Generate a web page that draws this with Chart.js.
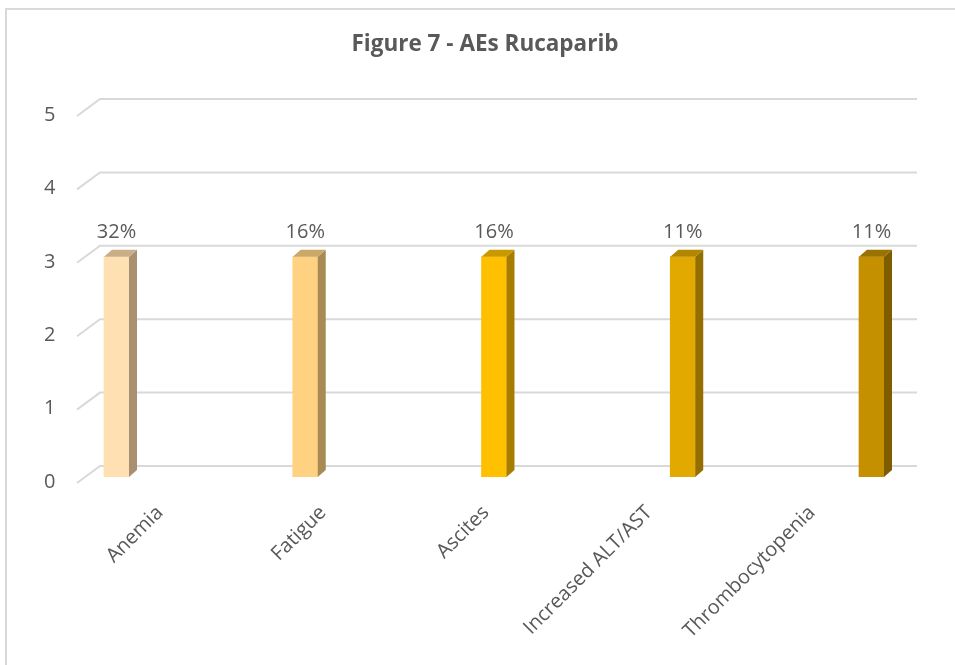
<!DOCTYPE html>
<html>
<head>
<meta charset="utf-8">
<script src="https://cdn.jsdelivr.net/npm/chart.js@4/dist/chart.umd.min.js"></script>
<style>
  html, body { margin: 0; padding: 0; background: #fff; }
  #wrap { position: relative; width: 955px; height: 665px; overflow: hidden; }
  #frame { position: absolute; left: 5px; top: 8px; width: 1000px; height: 700px;
           border-left: 2px solid #d9d9d9; border-top: 2px solid #d9d9d9; }
  #chart { position: absolute; left: 0; top: 0; }
</style>
</head>
<body>
<div id="wrap">
  <div id="frame"></div>
  <canvas id="chart" width="955" height="665"></canvas>
</div>
<script>
var categories = ['Anemia', 'Fatigue', 'Ascites', 'Increased ALT/AST', 'Thrombocytopenia'];
var values = [3, 3, 3, 3, 3];
var pctLabels = ['32%', '16%', '16%', '11%', '11%'];
var yTicks = [0, 1, 2, 3, 4, 5];

var frontColors = ['#FFE0B3', '#FFD281', '#FFC000', '#E2A900', '#C49000'];
var sideColors  = ['#A89070', '#A88A55', '#A67D00', '#946E00', '#7D5D00'];
var topColors   = ['#C9AE88', '#C9A868', '#C99A00', '#B38600', '#9A7200'];

var textColor = '#595959';
var fontFam = '"Open Sans", sans-serif';

// 3d look: bars sit a bit behind the front floor edge
var barShift = -5;   // vertical offset of bar front face
var depthX = 8, depthY = 7;

var wallPlugin = {
  id: 'wall',
  beforeDatasetsDraw: function(chart) {
    var ctx = chart.ctx, y = chart.scales.y, area = chart.chartArea;
    ctx.save();
    ctx.strokeStyle = '#d9d9d9';
    ctx.lineWidth = 2;
    yTicks.forEach(function(v) {
      var yf = y.getPixelForValue(v);
      ctx.beginPath();
      ctx.moveTo(area.left - 1.5, yf + 1);
      ctx.lineTo(area.left + 21.5, yf - 16);
      ctx.lineTo(area.right + 23.5, yf - 16);
      ctx.stroke();
    });
    ctx.restore();
    ctx.save();
    ctx.translate(0, barShift);
  },
  afterDatasetsDraw: function(chart) {
    var ctx = chart.ctx;
    var bars = chart.getDatasetMeta(0).data;
    bars.forEach(function(bar, i) {
      var l = bar.x - bar.width / 2, r = bar.x + bar.width / 2;
      var t = bar.y, b = bar.base;
      ctx.fillStyle = sideColors[i];
      ctx.beginPath();
      ctx.moveTo(r, t);
      ctx.lineTo(r + depthX, t - depthY);
      ctx.lineTo(r + depthX, b - depthY);
      ctx.lineTo(r, b);
      ctx.closePath();
      ctx.fill();
      ctx.fillStyle = topColors[i];
      ctx.beginPath();
      ctx.moveTo(l, t);
      ctx.lineTo(l + depthX, t - depthY);
      ctx.lineTo(r + depthX, t - depthY);
      ctx.lineTo(r, t);
      ctx.closePath();
      ctx.fill();
      ctx.fillStyle = textColor;
      ctx.font = '20px ' + fontFam;
      ctx.textAlign = 'center';
      ctx.textBaseline = 'middle';
      ctx.fillText(pctLabels[i], bar.x, t - 25);
    });
    ctx.restore();
  }
};

new Chart(document.getElementById('chart'), {
  type: 'bar',
  data: {
    datasets: [{
      data: values.map(function(v, i) { return { x: i, y: v }; }),
      xAxisID: 'xb',
      yAxisID: 'y',
      backgroundColor: frontColors,
      borderWidth: 0,
      barThickness: 25
    }]
  },
  options: {
    responsive: false,
    animation: false,
    layout: { padding: { left: 15, right: 0, top: 0, bottom: 0 } },
    plugins: {
      legend: { display: false },
      tooltip: { enabled: false },
      title: {
        display: true,
        text: 'Figure 7 - AEs Rucaparib',
        color: textColor,
        font: { family: fontFam, size: 22.5, weight: 'bold' },
        padding: { top: 31.5, bottom: 56.5 }
      }
    },
    scales: {
      x: {
        type: 'category',
        labels: categories,
        offset: true,
        grid: { display: false },
        border: { display: false },
        ticks: {
          color: textColor,
          font: { family: fontFam, size: 20 },
          minRotation: 45,
          maxRotation: 45,
          padding: 11
        },
        afterFit: function(s) { s.height = 183; }
      },
      xb: {
        type: 'linear',
        display: false,
        offset: false,
        min: -0.2013,
        max: 4.1166
      },
      y: {
        min: 0,
        max: 5,
        grid: { display: false, drawTicks: false },
        border: { display: false },
        ticks: {
          stepSize: 1,
          color: textColor,
          font: { family: fontFam, size: 20 },
          padding: 23
        },
        afterFit: function(s) { s.width = 63.5; }
      },
      // empty right-hand axis, only reserves the margin beside the plot
      yr: {
        position: 'right',
        min: 0,
        max: 5,
        grid: { display: false, drawTicks: false },
        border: { display: false },
        ticks: { display: false },
        afterFit: function(s) { s.width = 61.5; }
      }
    }
  },
  plugins: [wallPlugin]
});
</script>
</body>
</html>
